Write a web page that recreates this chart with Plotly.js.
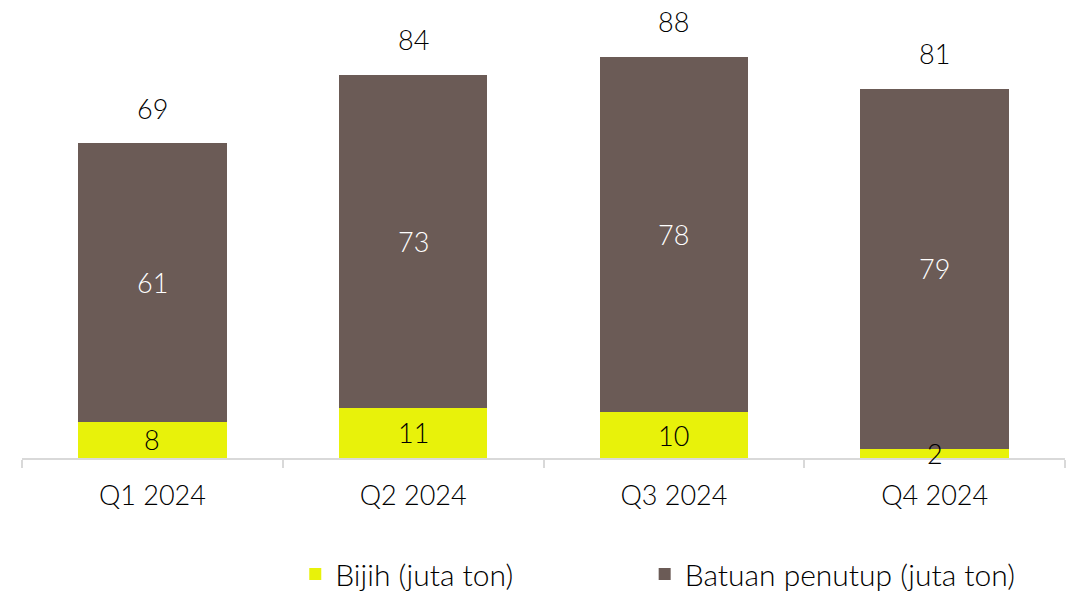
<!DOCTYPE html>
<html><head><meta charset="utf-8">
<script src="https://cdn.plot.ly/plotly-3.0.1.min.js"></script>
<style>html,body{margin:0;padding:0;background:#fff}</style>
</head><body>
<div id="chart" style="width:1077px;height:600px"></div>
<script>
const categories = ["Q1 2024", "Q2 2024", "Q3 2024", "Q4 2024"];
const bijih = [8, 11, 10, 2];
const batuan = [61, 73, 78, 79];
const totals = [69, 84, 88, 81];
const seriesNames = ["Bijih (juta ton)", "Batuan penutup (juta ton)"];

const FONT = "Lato, 'Open Sans', sans-serif";
const W = 300;
const yellow = "#E8F20A";
const brown = "#6B5B56";

const traces = [
  {type: "bar", name: seriesNames[0], x: categories, y: bijih, marker: {color: yellow}, hoverinfo: "none", legend: "legend"},
  {type: "bar", name: seriesNames[1], x: categories, y: batuan, marker: {color: brown}, hoverinfo: "none", legend: "legend2"}
];

const annotations = [];
categories.forEach((c, i) => {
  annotations.push({x: c, y: bijih[i] / 2, text: String(bijih[i]), showarrow: false,
    font: {family: FONT, size: 27, color: "#000", weight: W}, yanchor: "middle"});
  annotations.push({x: c, y: bijih[i] + batuan[i] / 2, text: String(batuan[i]), showarrow: false,
    font: {family: FONT, size: 27, color: "#fff", weight: W}, yanchor: "middle"});
  annotations.push({x: c, y: bijih[i] + batuan[i], text: String(totals[i]), showarrow: false,
    font: {family: FONT, size: 27, color: "#000", weight: W}, yanchor: "middle", yshift: 35});
});

const legendFont = {family: FONT, size: 30, color: "#000", weight: W};

const layout = {
  width: 1077, height: 600,
  margin: {l: 22, r: 12, t: 0, b: 142},
  barmode: "stack", bargap: 0.43,
  paper_bgcolor: "#fff", plot_bgcolor: "#fff",
  font: {family: FONT, size: 27, color: "#000", weight: W},
  xaxis: {
    type: "category", showline: true, linecolor: "#D9D9D9", linewidth: 2,
    ticks: "outside", tickson: "boundaries", ticklen: 8, tickcolor: "#D9D9D9", tickwidth: 2,
    tickfont: {family: FONT, size: 27, color: "#000", weight: W}, ticklabelstandoff: 13,
    showgrid: false, zeroline: false
  },
  yaxis: {range: [0, 100.4], visible: false, showgrid: false, zeroline: false},
  showlegend: true,
  legend: {orientation: "h", x: 0.262, xanchor: "left", yref: "container", y: -0.011, yanchor: "bottom",
    font: legendFont, bgcolor: "rgba(0,0,0,0)"},
  legend2: {orientation: "h", x: 0.597, xanchor: "left", yref: "container", y: -0.011, yanchor: "bottom",
    font: legendFont, bgcolor: "rgba(0,0,0,0)"},
  annotations: annotations
};

Plotly.newPlot("chart", traces, layout, {displayModeBar: false, staticPlot: true});
</script>
</body></html>
